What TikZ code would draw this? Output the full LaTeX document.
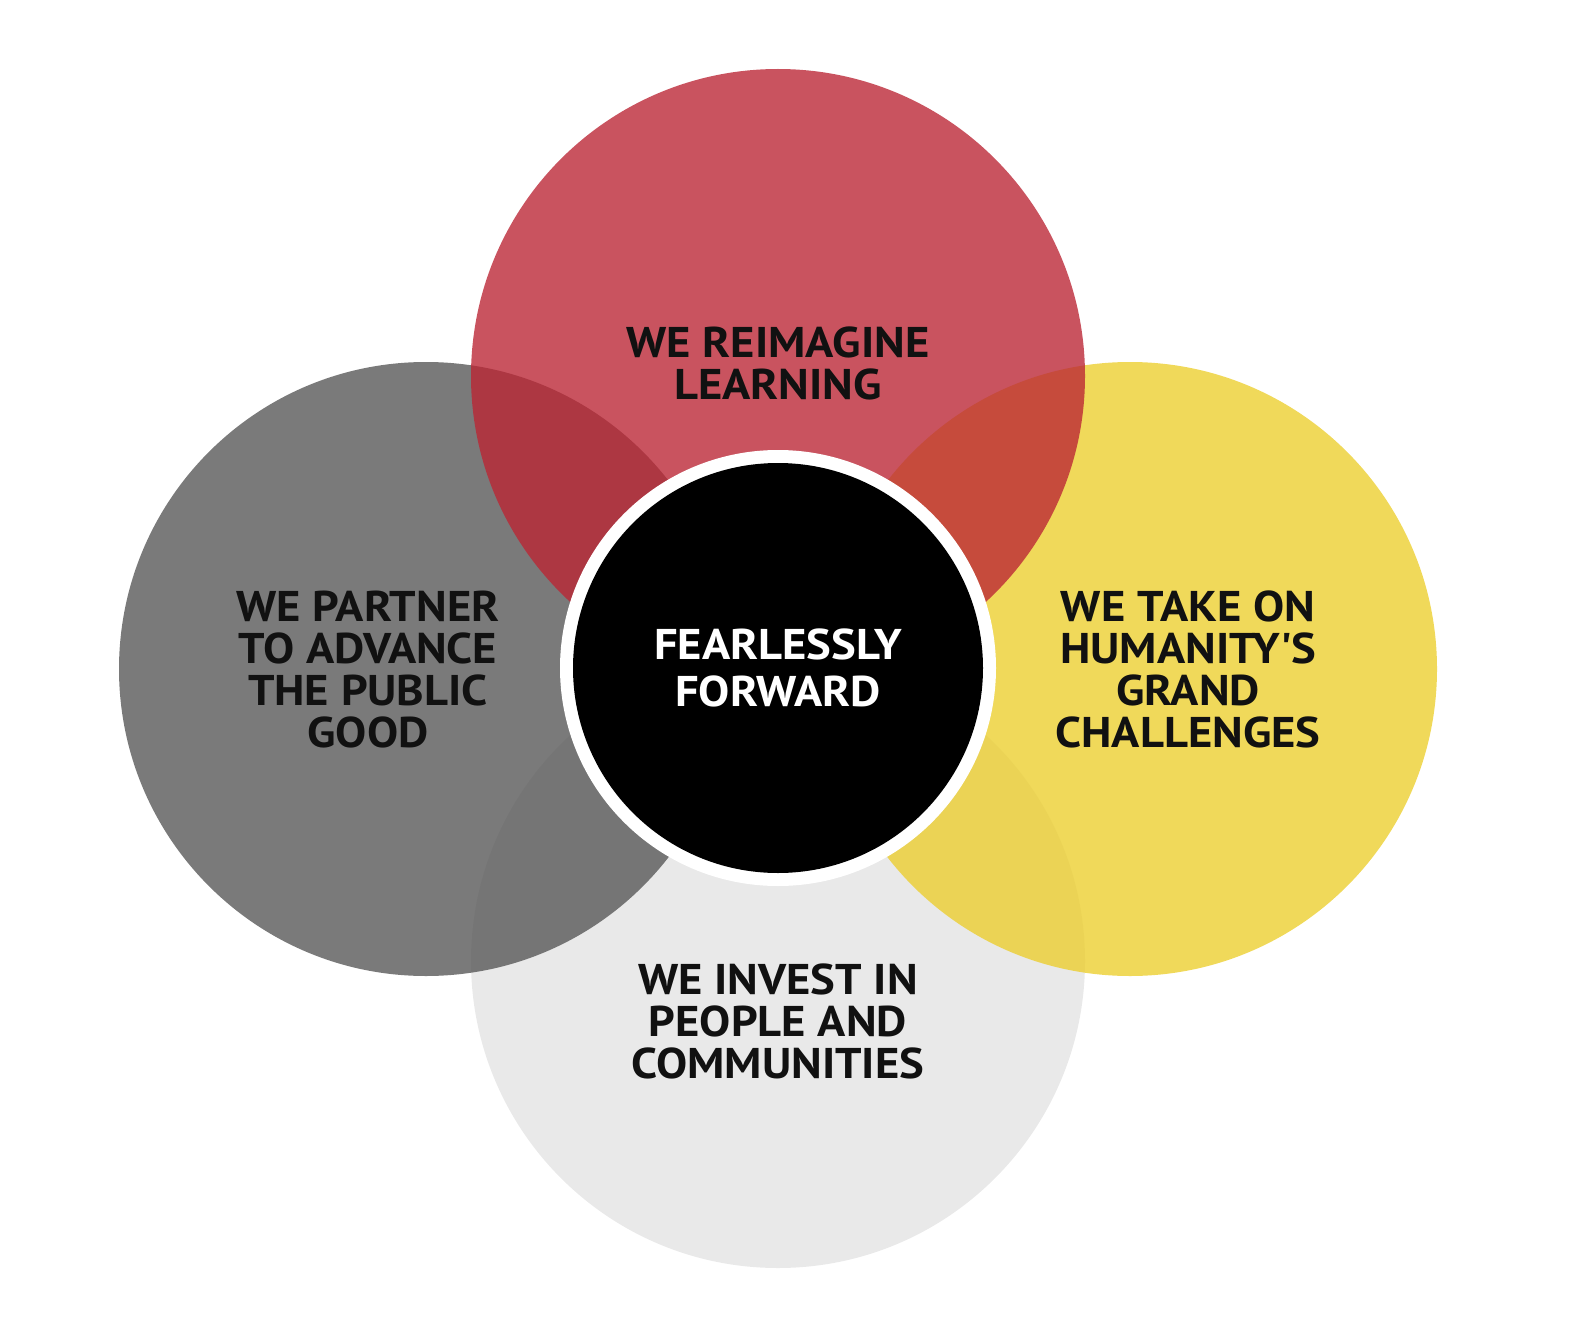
\documentclass[tikz,border=0pt]{standalone}
\usepackage{fontspec}
\setmainfont[FakeStretch=1.085]{PT Sans}
\definecolor{cred}{RGB}{187,37,52}
\definecolor{cgray}{RGB}{85,85,85}
\definecolor{cyellow}{RGB}{236,206,44}
\definecolor{clgray}{RGB}{233,233,233}
\definecolor{ctext}{RGB}{17,17,17}
\begin{document}
\begin{tikzpicture}[x=1pt,y=-1pt,
  disk/.style={circle, inner sep=0pt, outer sep=0pt, draw=none, minimum size=614pt},
  lbl/.style={align=center, inner sep=0pt, text=ctext, font=\bfseries\fontsize{43}{42}\selectfont},
  ctrlbl/.style={align=center, inner sep=0pt, text=white, font=\bfseries\fontsize{43}{47}\selectfont}]
\useasboundingbox (0,0) rectangle (1590,1343);
% petals
\node[disk, fill=clgray] (invest) at (778,961) {};
\node[disk, fill=cgray, fill opacity=0.78] (partner) at (426,669) {};
\node[disk, fill=cyellow, fill opacity=0.78] (take) at (1130,669) {};
\node[disk, fill=cred, fill opacity=0.79] (reimagine) at (778,376) {};
% centre
\node[circle, inner sep=0pt, fill=white, minimum size=436pt] (ring) at (778,668) {};
\node[circle, inner sep=0pt, fill=black, minimum size=410pt] (core) at (ring.center) {};
% labels
\node[lbl] (treim) at (778,363) {WE REIMAGINE\\LEARNING};
\node[lbl] (tpart) at (368,669.5) {WE PARTNER\\TO ADVANCE\\THE PUBLIC\\GOOD};
\node[lbl] (ttake) at (1188,669.5) {WE TAKE ON\\HUMANITY\textquotesingle S\\GRAND\\CHALLENGES};
\node[lbl] (tinv) at (778,1021) {WE INVEST IN\\PEOPLE AND\\COMMUNITIES};
\node[ctrlbl] (tcore) at (778,667.5) {FEARLESSLY\\FORWARD};
\end{tikzpicture}
\end{document}
